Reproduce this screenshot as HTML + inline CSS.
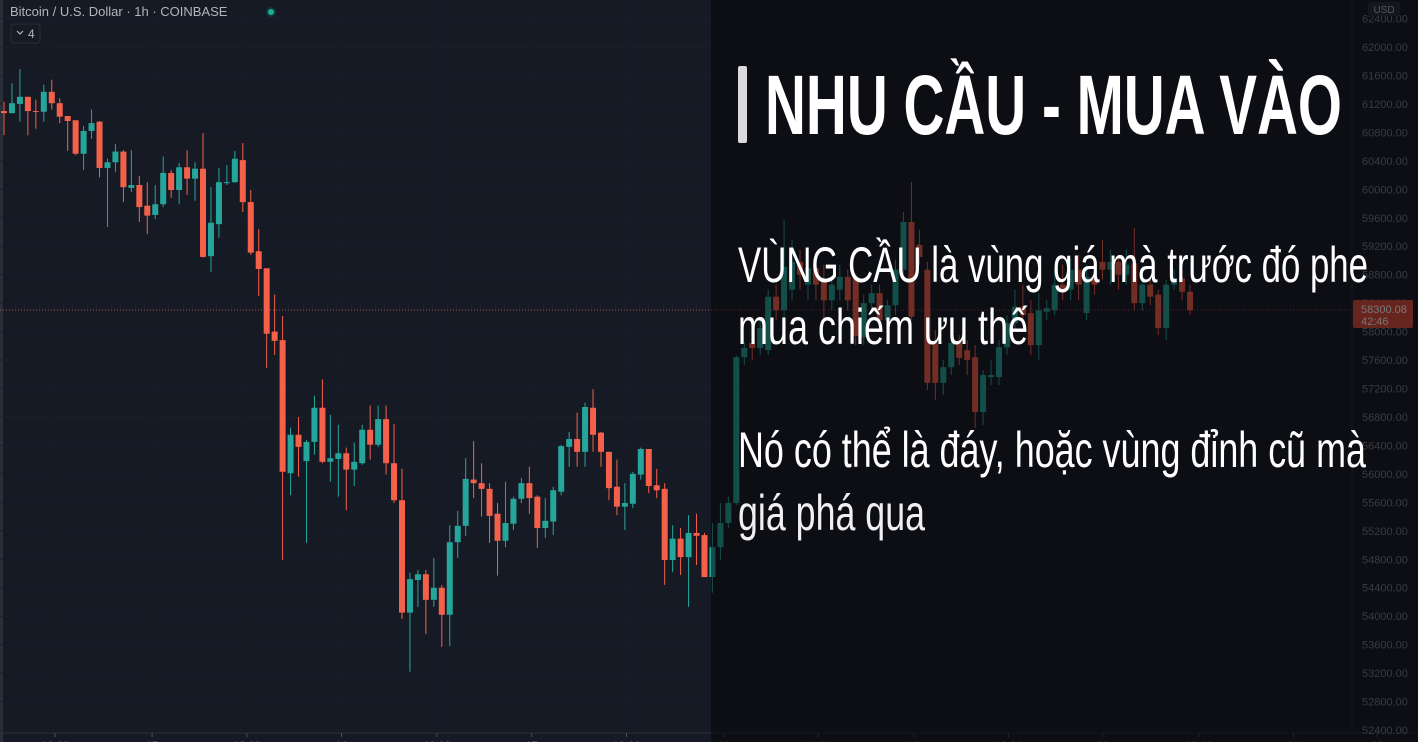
<!DOCTYPE html>
<html><head><meta charset="utf-8"><style>
html,body{margin:0;padding:0;background:#161a25;}
svg{display:block;}
text{font-family:"Liberation Sans",sans-serif;}
</style></head><body>
<svg id="chart" width="1418" height="742" viewBox="0 0 1418 742" xmlns="http://www.w3.org/2000/svg">
<rect x="0" y="0" width="1418" height="742" fill="#161a25"/>
<rect x="0" y="0" width="3" height="742" fill="#2a2e39"/>
<g id="grid"></g>
<g id="candles"></g>
<line x1="0" y1="310" x2="1352" y2="310" stroke="#e0574a" stroke-width="1" stroke-dasharray="1,2" opacity="0.8"/>
<line x1="1352" y1="0" x2="1352" y2="733" stroke="#2a2e39"/>
<line x1="0" y1="733" x2="1418" y2="733" stroke="#2a2e39"/>
<g id="yaxis"></g>
<g id="xaxis"></g>
<rect x="1368" y="2" width="32" height="14" rx="2" fill="#2a2e39"/>
<text x="1384" y="13" font-size="10" fill="#b2b5be" text-anchor="middle">USD</text>
<rect x="1353" y="300" width="60" height="28" rx="2" fill="#e04a3b"/>
<text x="1361" y="313" font-size="11" fill="#ffffff">58300.08</text>
<text x="1361" y="325" font-size="11" fill="#ffffff">42:46</text>
<text x="10" y="16" font-size="13" fill="#b2b5be">Bitcoin / U.S. Dollar · 1h · COINBASE</text>
<circle cx="271" cy="12" r="5" fill="#0f3a3a"/>
<circle cx="271" cy="12" r="3" fill="#22ab94"/>
<rect x="11" y="24" width="29" height="19" rx="3" fill="#161a25" stroke="#2a2e39"/>
<path d="M17 31 l3 3 l3 -3" fill="none" stroke="#b2b5be" stroke-width="1.2"/>
<text x="28" y="38" font-size="12" fill="#b2b5be">4</text>
<rect x="711" y="0" width="707" height="742" fill="#050508" opacity="0.55"/>
<rect x="738" y="66" width="9" height="77" rx="2" fill="#d9d9de"/>
<text x="765" y="134" font-size="84" font-weight="bold" fill="#ffffff" textLength="577" lengthAdjust="spacingAndGlyphs">NHU CẦU - MUA VÀO</text>
<text x="738" y="282" font-size="50" fill="#ffffff" textLength="630" lengthAdjust="spacingAndGlyphs">VÙNG CẦU là vùng giá mà trước đó phe</text>
<text x="738" y="344" font-size="50" fill="#ffffff" textLength="290" lengthAdjust="spacingAndGlyphs">mua chiếm ưu thế</text>
<text x="738" y="467" font-size="50" fill="#ffffff" textLength="628" lengthAdjust="spacingAndGlyphs">Nó có thể là đáy, hoặc vùng đỉnh cũ mà</text>
<text x="738" y="530" font-size="50" fill="#f0f0f0" textLength="187" lengthAdjust="spacingAndGlyphs">giá phá qua</text>
</svg>
<script>
const opens=[61100,61070,61200,61300,61100,61090,61370,61210,61030,60970,60500,60820,60950,60300,60380,60530,60020,60060,59770,59640,59790,60230,59990,60310,60150,60290,59060,59510,60090,60100,60410,59820,59130,58890,58000,57880,56010,56550,56180,56450,56930,56170,56210,56290,56060,56150,56620,56410,56770,56150,55630,54050,54510,54590,54230,54400,54020,55040,55270,55920,55870,55790,55440,55060,55300,55650,55870,55680,55240,55330,55750,56380,56490,56310,56930,56580,56310,55820,55540,55580,55990,56350,55840,55790,54790,55090,54830,55170,55140,54550,54970,55310,55590,57640,57840,57770,57740,58490,58300,58590,58980,58660,58890,58730,58440,58590,58770,58750,57920,58400,58540,58160,58370,58870,59540,59220,58870,57840,57280,57500,57840,57740,57640,56870,57360,57360,57780,58120,58350,58260,57810,58280,58300,58660,58590,58870,58260,58770,58980,58870,58980,58800,58960,58400,58660,58520,58050,58660,58750,58560];
const closes=[61070,61210,61300,61100,61090,61370,61210,61020,60960,60500,60820,60930,60300,60380,60530,60030,60060,59750,59630,59790,60230,59990,60310,60150,60290,59050,59530,60100,60100,60430,59820,59110,58880,57970,57870,56030,56550,56380,56450,56930,56170,56220,56290,56060,56170,56620,56410,56770,56150,55630,54050,54520,54590,54230,54400,54020,55040,55270,55930,55870,55790,55410,55060,55310,55650,55870,55660,55240,55340,55770,56390,56490,56310,56940,56550,56310,55800,55540,55590,56000,56350,55830,55770,54790,55090,54830,55170,55130,54550,54970,55310,55590,57640,57770,57770,58050,58490,58300,58910,58980,58800,58890,58660,58440,58660,58770,58440,57940,58400,58540,58160,58370,58870,59540,58210,59050,57280,57280,57500,57840,57630,57600,56870,57390,57390,57780,58120,58350,58230,57810,58300,58330,58660,58590,58870,58660,58770,58660,58870,58980,58800,58940,58400,58660,58490,58050,58660,58750,58560,58300];
const highs=[61230,61490,61690,61300,61260,61470,61540,61280,61030,60970,60890,61120,60960,60430,60640,60550,60550,60190,60100,60060,60460,60270,60370,60550,60380,60790,60030,60300,60340,60540,60650,59990,59440,58890,58520,58220,56650,56800,56480,57100,57330,56830,56690,56370,56440,56690,56960,56960,56960,56700,56070,54610,54650,54650,54820,54440,55280,55480,56220,56460,56150,55870,55590,55890,55680,55940,56100,55700,55660,55820,56410,56590,56860,57000,57190,56590,56310,56200,55870,56030,56370,56350,56070,55870,55280,55240,55420,55440,55170,55310,55590,55680,57670,57850,58210,58160,58590,58660,59570,59290,59150,59080,59080,58940,58750,58940,58870,58800,58520,58660,58660,58440,59010,59680,60100,59430,58980,58020,57600,57950,57950,57880,57810,57460,57600,57880,58230,58590,58660,58440,58540,58440,58870,58940,59030,59080,58940,59010,59290,59150,59080,59150,59460,58730,58730,58590,58730,58870,58870,58660];
const lows=[60760,61070,60950,60760,60850,60950,61120,60930,60540,60480,60270,60710,60170,59470,60240,59820,59960,59540,59370,59580,59750,59880,59790,59920,59840,59040,58840,59320,60060,60090,59680,59080,58500,57490,57670,54790,55700,55960,55030,56270,56150,55890,55680,55490,55830,56130,56200,56380,55990,55590,53960,53220,54130,53750,54130,53570,53580,54820,55130,55660,55400,55030,54570,54970,55210,55590,55440,54960,55100,55140,55700,56100,56100,56100,56310,56100,55630,55420,55210,55520,55920,55730,55660,54440,54620,54580,54130,54720,54550,54330,54790,55240,55560,57530,57600,57670,57670,58160,58190,58440,58590,58440,58440,58160,58300,58440,58300,57810,57810,58300,58020,58090,58230,58800,58160,58940,57180,57040,57110,57390,57530,57390,56650,56690,57250,57250,57670,58020,58090,57670,57600,58160,58230,58440,58440,58440,58160,58520,58730,58660,58590,58660,58300,58300,58370,57950,57880,58590,58440,58230];
const priceTicks=[62400,62000,61600,61200,60800,60400,60000,59600,59200,58800,58400,58000,57600,57200,56800,56400,56000,55600,55200,54800,54400,54000,53600,53200,52800,52400];
const timeLabels=["12:00","15","12:00","16","12:00","17","12:00","18","12:00","19","12:00","20","12:00","21","22"];
const timeSlots=[6.4,18.6,30.5,42.4,54.4,66.3,78.2,90.4,102.3,114.3,126.2,138.0,150.1,162.0,172.5];

const NS="http://www.w3.org/2000/svg";
function yScale(p){return 47+(62000-p)*0.07115;}
function xScale(i){return 4+7.96*i;}
function mk(tag,attrs,parent){const e=document.createElementNS(NS,tag);for(const k in attrs)e.setAttribute(k,attrs[k]);parent.appendChild(e);return e;}

const grid=document.getElementById('grid');
const yaxis=document.getElementById('yaxis');
priceTicks.forEach(function(p){
  const y=yScale(p);
  const gl=mk('line',{x1:0,y1:y,x2:1352,y2:y,stroke:'#191d29','stroke-width':1},grid);
  
  
  const t=mk('text',{x:1362,y:y+4,'font-size':11,fill:'#787b86'},yaxis);
  t.textContent=p.toFixed(2);
  
  
});
const xaxis=document.getElementById('xaxis');
timeLabels.forEach(function(lbl,k){
  const x=xScale(timeSlots[k]);
  const gl=mk('line',{x1:x,y1:0,x2:x,y2:733,stroke:'#181c28','stroke-width':1},grid);
  
  
  const tk=mk('line',{x1:x,y1:733,x2:x,y2:737,stroke:'#4a4e59'},xaxis);
  
  
  const t=mk('text',{x:x,y:749,'font-size':11,fill:'#787b86','text-anchor':'middle'},xaxis);
  t.textContent=lbl;
  
  
});

const cg=document.getElementById('candles');
for(let i=0;i<opens.length;i++){
  const up=closes[i]>=opens[i];
  const col=up?'#26a69a':'#f5604b';
  const x=xScale(i);
  const w=mk('line',{x1:x,y1:yScale(highs[i]),x2:x,y2:yScale(lows[i]),stroke:col,'stroke-width':1},cg);
  
  
  const top=yScale(Math.max(opens[i],closes[i]));
  const bot=yScale(Math.min(opens[i],closes[i]));
  const b=mk('rect',{x:x-3,y:top,width:6,height:Math.max(1,bot-top),fill:col},cg);
  
  
}
</script>
</body></html>
